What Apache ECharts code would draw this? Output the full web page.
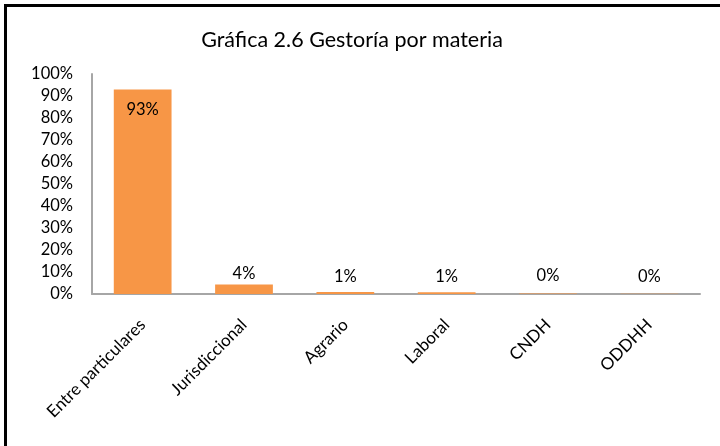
<!DOCTYPE html>
<html>
<head>
<meta charset="utf-8">
<script src="https://cdn.jsdelivr.net/npm/echarts@6/dist/echarts.min.js"></script>
<style>
html, body { margin: 0; padding: 0; background: #fff; }
#frame {
  position: absolute;
  left: 4px;
  top: 4px;
  width: 716px;
  height: 442px;
  border-left: 3px solid #000;
  border-top: 3px solid #000;
  box-sizing: border-box;
}
#myChart {
  position: absolute;
  left: 0;
  top: 0;
  width: 720px;
  height: 446px;
}
</style>
</head>
<body>
<div id="frame"></div>
<div id="myChart"></div>
<script>
// datos de la gráfica
const categories = ['Entre particulares', 'Jurisdiccional', 'Agrario', 'Laboral', 'CNDH', 'ODDHH']
const values = [93, 4.3, 0.9, 0.8, 0.2, 0.1]
const yTicks = [0, 10, 20, 30, 40, 50, 60, 70, 80, 90, 100]
// separación de cada etiqueta respecto a la barra (como en el original)
const labelGap = [12, 2, 7, 7, 9, 9]

const font = 'Lato, "Open Sans", sans-serif'
let myChart = echarts.init(document.getElementById('myChart'))

myChart.setOption({
  animation: false,
  title: {
    text: 'Gráfica 2.6 Gestoría por materia',
    left: 347,
    top: 24,
    textAlign: 'center',
    textStyle: { fontFamily: font, fontSize: 21.5, fontWeight: 'normal', color: '#000' }
  },
  grid: { left: 92, right: 20, top: 74, bottom: 152 },
  xAxis: {
    type: 'category',
    data: categories,
    axisLine: { lineStyle: { color: '#A6A6A6', width: 2 } },
    axisTick: { show: false },
    axisLabel: {
      rotate: 45,
      margin: 28,
      fontFamily: font,
      fontSize: 17,
      color: '#000'
    }
  },
  yAxis: {
    type: 'value',
    min: yTicks[0],
    max: yTicks[yTicks.length - 1],
    interval: 10,
    axisLine: { show: true, lineStyle: { color: '#A6A6A6', width: 2 } },
    axisTick: { show: false },
    splitLine: { show: false },
    axisLabel: {
      margin: 19,
      fontFamily: font,
      fontSize: 16.5,
      color: '#000',
      formatter: v => v + '%'
    }
  },
  series: [
    {
      type: 'bar',
      barWidth: '57%',
      data: values.map((v, i) => ({
        value: v,
        label: i === 0
          ? { position: 'insideTop', distance: labelGap[i] }
          : { position: 'top', distance: labelGap[i] }
      })),
      itemStyle: { color: '#F79646' },
      label: {
        show: true,
        fontFamily: font,
        fontSize: 16.5,
        color: '#000',
        formatter: p => Math.round(p.value) + '%'
      }
    }
  ]
})
</script>
</body>
</html>
